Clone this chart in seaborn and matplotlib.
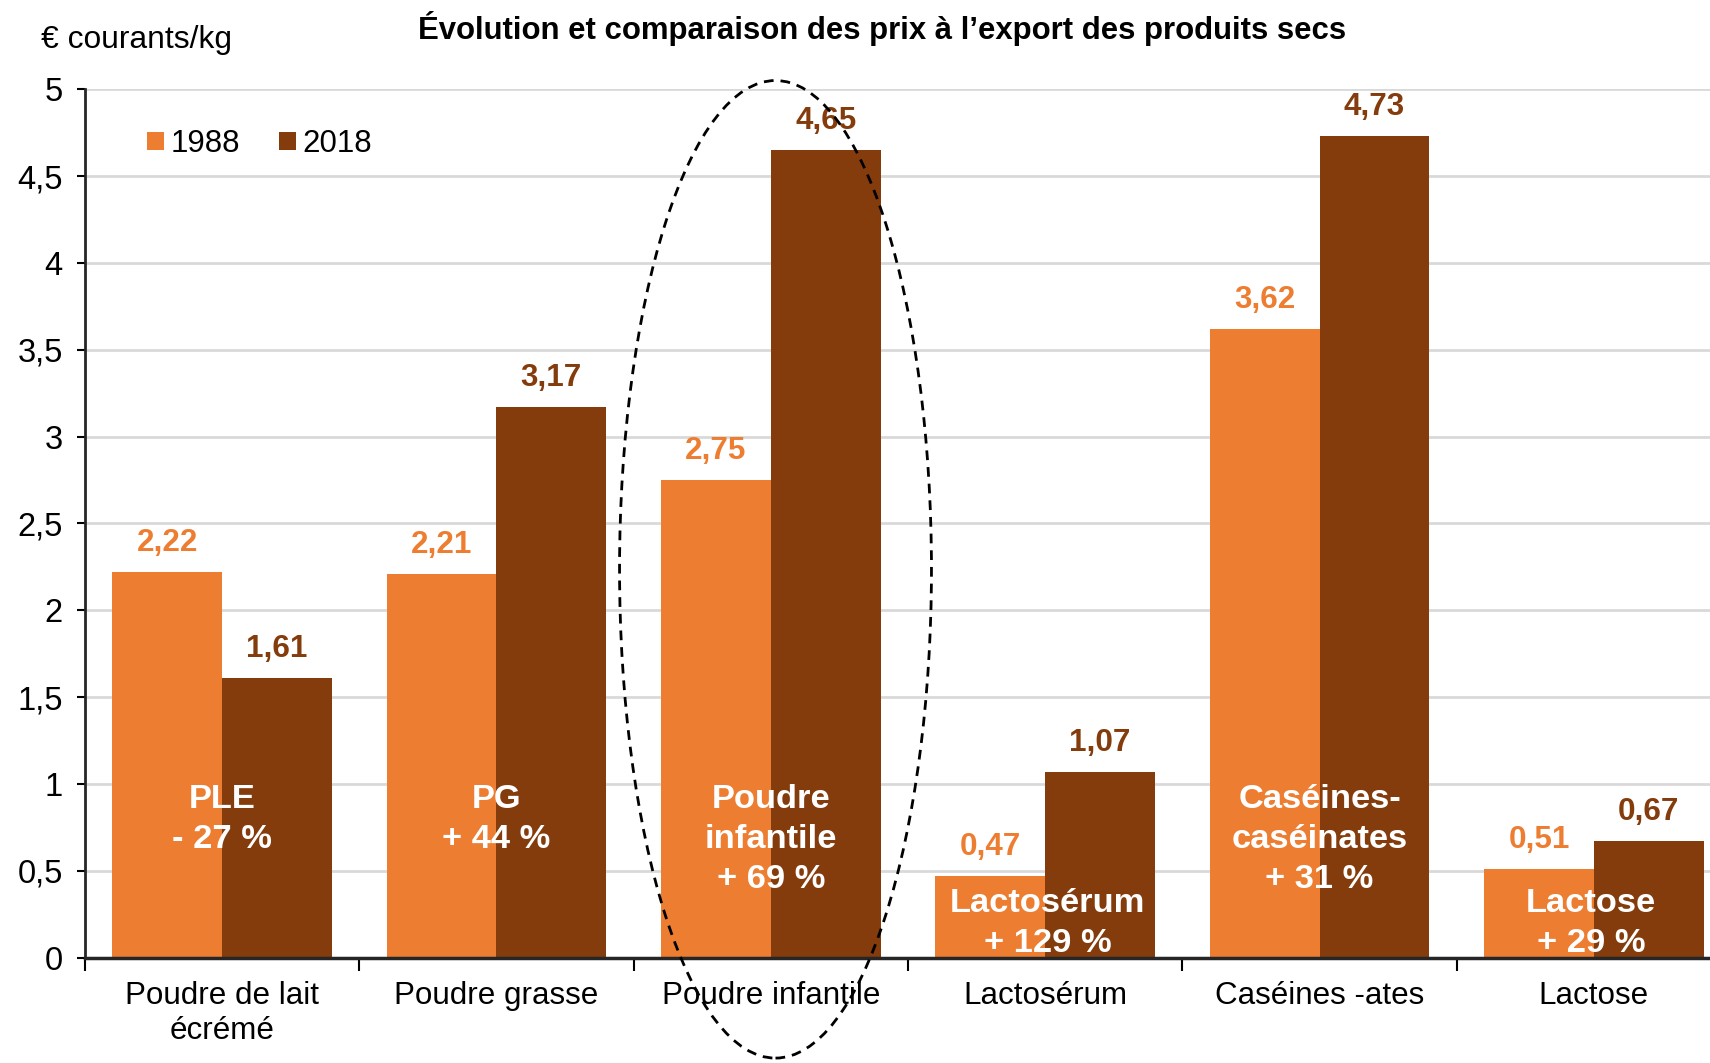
import numpy as np
import pandas as pd
import matplotlib
matplotlib.use("Agg")
import matplotlib.pyplot as plt
from matplotlib.patches import Ellipse
import seaborn as sns

# données (prix à l'export, € courants/kg)
categories = ["Poudre de lait\nécrémé", "Poudre grasse", "Poudre infantile",
              "Lactosérum", "Caséines -ates", "Lactose"]
years = ["1988", "2018"]
prix_1988 = [2.22, 2.21, 2.75, 0.47, 3.62, 0.51]
prix_2018 = [1.61, 3.17, 4.65, 1.07, 4.73, 0.67]
evolution_labels = ["PLE\n- 27 %", "PG\n+ 44 %", "Poudre\ninfantile\n+ 69 %",
                    "Lactosérum\n+ 129 %", "Caséines-\ncaséinates\n+ 31 %",
                    "Lactose\n+ 29 %"]
yticks = [0, 0.5, 1, 1.5, 2, 2.5, 3, 3.5, 4, 4.5, 5]
highlight = "Poudre infantile"

ORANGE = "#ED7D31"
BROWN = "#843C0C"
FONT = ["Liberation Sans", "DejaVu Sans"]


def fr(v):
    return f"{v:g}".replace(".", ",")


def build_df():
    rows = []
    for cat, a, b in zip(categories, prix_1988, prix_2018):
        rows.append({"produit": cat, "annee": years[0], "prix": a})
        rows.append({"produit": cat, "annee": years[1], "prix": b})
    return pd.DataFrame(rows)


def plot_chart(df):
    sns.set_style("white")
    plt.rcParams["font.family"] = FONT
    plt.rcParams["text.color"] = "black"
    plt.rcParams["xtick.color"] = "black"
    plt.rcParams["ytick.color"] = "black"

    fig = plt.figure(figsize=(17.1, 10.63), dpi=100)
    ax = fig.add_axes([0.0497, 0.0992, 0.9626, 0.8167])

    sns.barplot(data=df, x="produit", y="prix", hue="annee", order=categories,
                hue_order=years, palette=[ORANGE, BROWN], width=0.8,
                linewidth=0, saturation=1, ax=ax, zorder=2)

    ax.set_ylim(0, 5)
    ax.set_xlim(-0.5, len(categories) - 0.5)
    ax.set_yticks(yticks)
    ax.set_yticklabels([fr(t) for t in yticks], fontsize=23.5)
    ax.yaxis.grid(True, color="#D9D9D9", linewidth=2, zorder=0)
    ax.set_axisbelow(True)
    ax.tick_params(axis="y", length=6, width=1.5, pad=10, left=True)

    # ticks x entre les groupes, libellés au centre
    ax.set_xticks(np.arange(-0.5, len(categories)), labels=[""] * (len(categories) + 1))
    ax.set_xticks(np.arange(len(categories)), labels=categories, minor=True)
    ax.tick_params(axis="x", which="major", length=9, width=1.5, bottom=True)
    ax.tick_params(axis="x", which="minor", length=0, pad=17, labelsize=22.6)
    for lab in ax.get_xticklabels(minor=True):
        lab.set_linespacing(1.2)

    ax.set_xlabel("")
    ax.set_ylabel("")
    sns.despine(ax=ax, top=True, right=True)
    ax.spines["left"].set_linewidth(2)
    ax.spines["bottom"].set_linewidth(2.5)

    # étiquettes de valeurs
    for cont, col in zip(ax.containers, [ORANGE, BROWN]):
        for bar in cont:
            h = bar.get_height()
            ax.annotate(fr(h), (bar.get_x() + bar.get_width() / 2, h),
                        xytext=(0, 10), textcoords="offset points",
                        ha="center", va="bottom", fontsize=22.6,
                        fontweight="bold", color=col)

    # évolution 1988-2018 dans les barres
    for i, txt in enumerate(evolution_labels):
        if min(prix_1988[i], prix_2018[i]) > 1.2:
            ax.text(i, 1.0, txt, ha="center", va="top", fontsize=24.8,
                    fontweight="bold", color="white", linespacing=1.38, zorder=5)
        else:
            ax.text(i - 0.01 * np.sign(i - 3.5), -0.01, txt, ha="center", va="bottom",
                    fontsize=24.8, fontweight="bold", color="white",
                    linespacing=1.38, zorder=5)

    # ellipse autour de la poudre infantile
    xi = categories.index(highlight)
    ell = Ellipse((xi + 0.017, 2.236), width=1.137, height=5.63, fill=False,
                  edgecolor="black", linewidth=2, linestyle=(0, (3.5, 2.5)),
                  clip_on=False, zorder=6)
    ax.add_patch(ell)

    ax.legend(loc="center left", bbox_to_anchor=(0.028, 0.937), ncol=2,
              frameon=False, fontsize=22.5, handlelength=0.55, handleheight=0.55,
              handletextpad=0.2, columnspacing=1.25, borderpad=0)

    fig.text(0.516, 1 - 29 / 1063, "Évolution et comparaison des prix à l’export des produits secs",
             ha="center", va="center", fontsize=22.4, fontweight="bold")
    fig.text(41 / 1710, 1 - 40 / 1063, "€ courants/kg", ha="left", va="center", fontsize=22.9)

    fig.savefig("out.png", dpi=100)
    plt.close(fig)


def main():
    df = build_df()
    plot_chart(df)


if __name__ == "__main__":
    main()
